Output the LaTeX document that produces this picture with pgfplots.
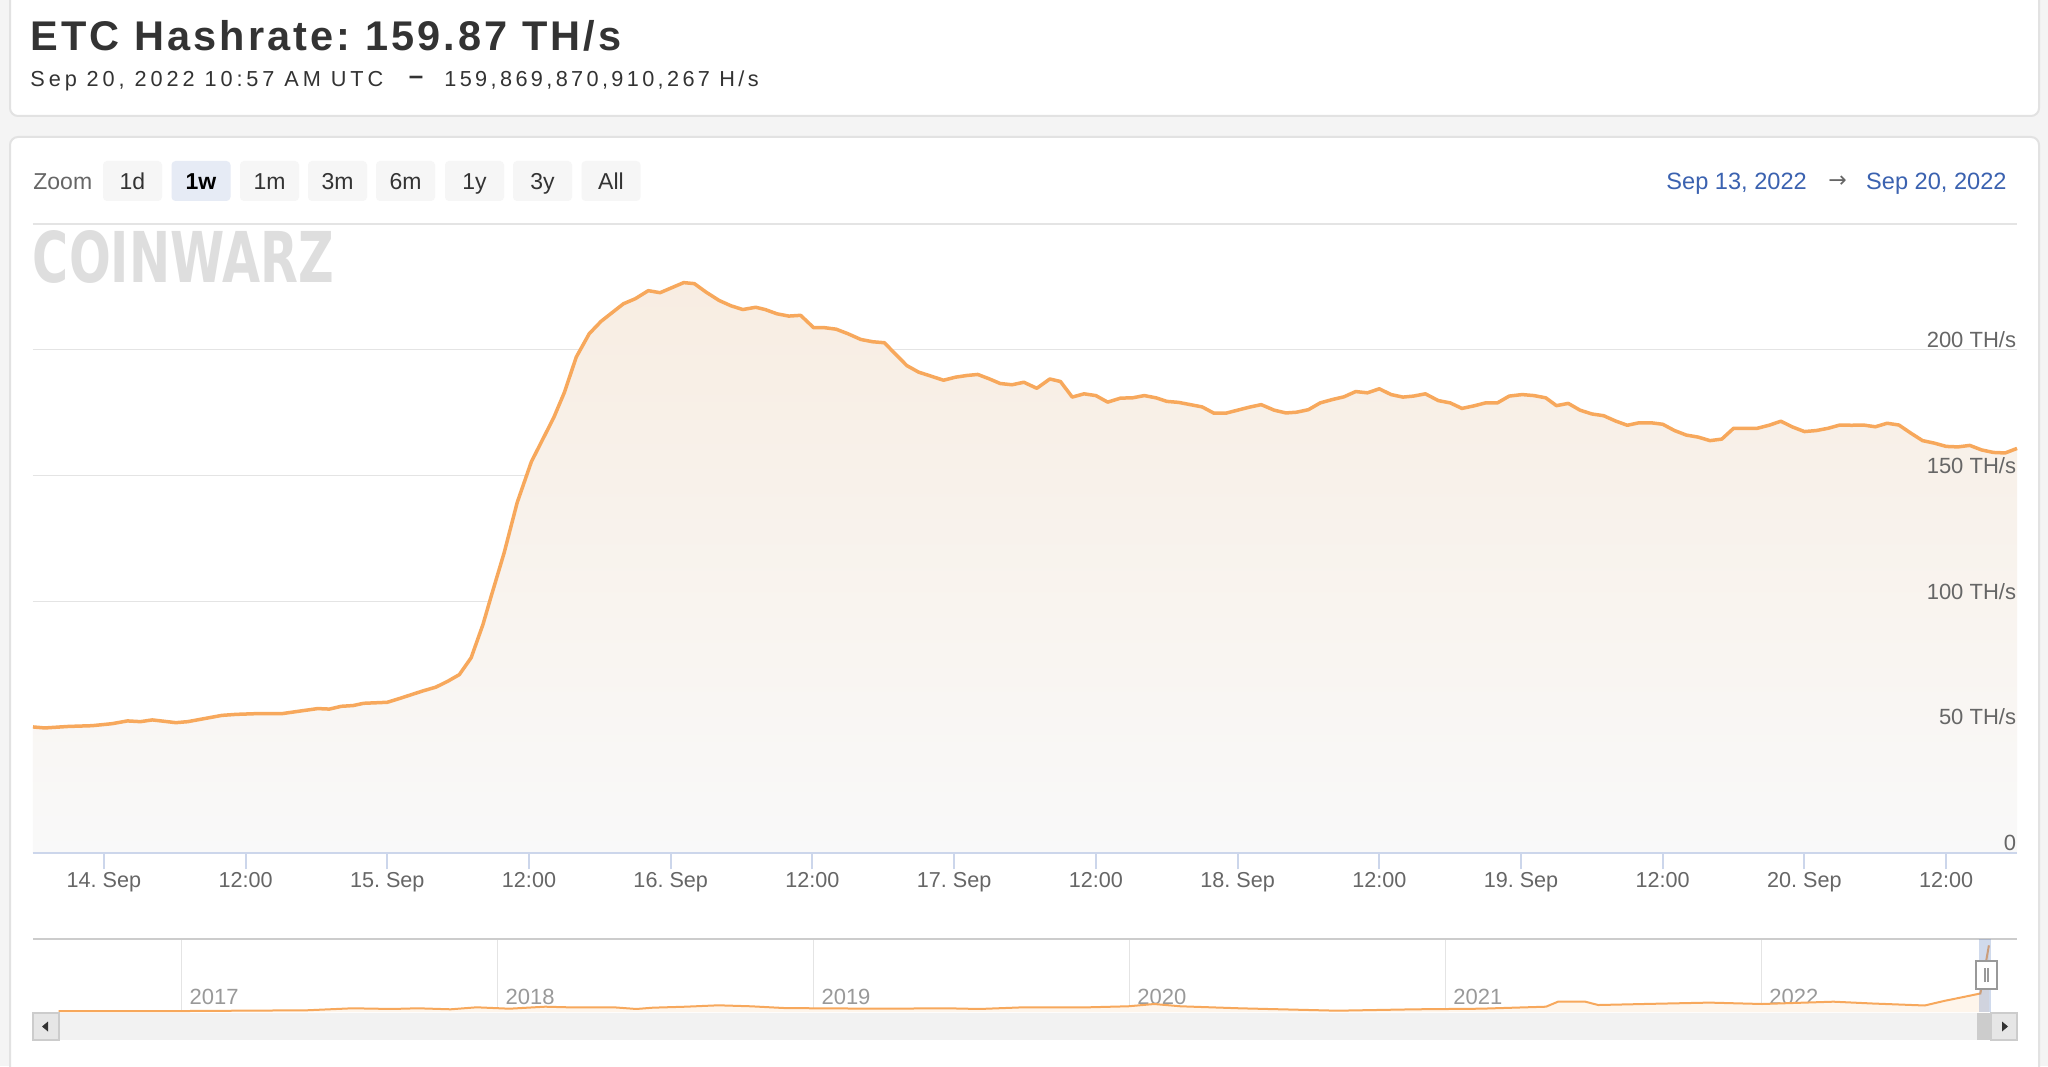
\documentclass[border=0pt]{standalone}
\usepackage{fontspec}
\setmainfont{Liberation Sans}
\newfontfamily\titlefont[LetterSpace=7.5]{Liberation Sans}
\newfontfamily\subfonta[LetterSpace=18]{Liberation Sans}
\newfontfamily\subfontb[LetterSpace=15.5]{Liberation Sans}
\newfontfamily\symfont{DejaVu Sans}
\usepackage{pgfplots}
\usepackage{pgfplotstable}
\pgfplotsset{compat=1.18}

\definecolor{pagebg}{RGB}{244,244,244}
\definecolor{cardline}{RGB}{226,226,226}
\definecolor{ink}{RGB}{51,51,51}
\definecolor{labelgray}{RGB}{102,102,102}
\definecolor{gridgray}{RGB}{228,228,228}
\definecolor{axisblue}{RGB}{204,214,235}
\definecolor{linec}{RGB}{247,168,92}
\definecolor{filltop}{RGB}{248,237,226}
\definecolor{fillbot}{RGB}{249,249,249}
\definecolor{btn}{RGB}{246,246,246}
\definecolor{btnsel}{RGB}{230,235,245}
\definecolor{rangeblue}{RGB}{59,98,176}
\definecolor{wm}{RGB}{222,222,222}
\definecolor{navgray}{RGB}{153,153,153}
\definecolor{scrolltrack}{RGB}{242,242,242}
\definecolor{scrollbtn}{RGB}{230,230,230}
\definecolor{scrollthumb}{RGB}{204,204,204}
\definecolor{maskblue}{RGB}{102,133,194}

% hours from 14 Sep 00:00, TH/s
\pgfplotstableread{
h v
-6 50.1
-5 49.7
-3 50.3
-1 50.6
0.7 51.4
2 52.5
3.1 52.2
4.1 52.9
6.1 51.8
7.1 52.2
10 54.7
11.2 55.1
13 55.4
15.1 55.4
18.1 57.4
19.1 57.2
20.1 58.3
21.1 58.6
22 59.5
24 59.9
25.1 61.5
27 64.4
28.1 65.9
29.1 68.2
30.1 70.9
31.1 77.6
32.1 90.8
32.8 102.1
33.9 119.4
35 139.3
36.2 155.5
38.1 173.1
39 183.1
40 197.1
41.1 206.4
42.1 211.3
43.1 215.0
44 218.3
45 220.3
46.1 223.5
47.1 222.7
48 224.5
49.1 226.7
50 226.3
51 222.9
52.1 219.6
53.1 217.5
54.1 216.0
55.2 216.9
56 216.0
57 214.3
58 213.4
59 213.7
60.1 208.8
61 208.8
62 208.2
63 206.4
64.1 204.1
65.1 203.2
66.1 202.8
67 198.4
68 193.7
69 191.1
70 189.6
71.1 187.9
72.1 189.1
73.1 189.8
74 190.2
75 188.4
75.9 186.6
76.9 186.1
77.9 187.1
79 184.7
80.1 188.4
81 187.4
82 181.2
83 182.5
84 181.8
85 179.2
86.1 180.8
87.1 180.9
88.1 181.8
89.1 180.9
90 179.5
91 179.1
92 178.2
93 177.3
94 174.8
95 174.8
96 176.0
97 177.2
98 178.2
99.1 176.0
100.1 174.9
101 175.2
102 176.2
103 178.9
104 180.2
105 181.3
106 183.4
107 182.9
108 184.5
109 182.2
110 181.2
110.9 181.6
111.9 182.5
113 179.8
114 178.9
115 176.7
116 177.7
117 178.9
118 178.9
119 181.6
120.1 182.2
121.1 181.8
122.1 180.9
123 177.8
124 178.7
125 176.0
126 174.5
127 173.8
128 171.7
129 170.0
130 171.0
131 171.0
132 170.4
133 167.9
134 166.1
135 165.3
136 163.9
137 164.5
138 168.8
139 168.8
140 168.8
141 170.0
142 171.6
143 169.3
144 167.5
145 167.9
146 168.8
147 170.1
148 170.0
149 170.1
150 169.4
151 170.8
152 170.1
153 166.9
154 163.9
155 162.9
156 161.6
157 161.4
158 162.0
159 160.2
160 159.2
161 159.0
162 160.8
}\hashdata

% navigator: year, TH/s
\pgfplotstableread{
yr v
2016.611 3
2017.0 3
2017.397 5.4
2017.541 11.7
2017.666 9.5
2017.748 11.7
2017.852 8.5
2017.934 14.8
2018.038 10.4
2018.151 16.7
2018.224 14.8
2018.368 14.8
2018.44 9.5
2018.492 13.6
2018.596 16.7
2018.699 21.1
2018.802 18
2018.906 12.6
2019.0 11.7
2019.216 10.4
2019.422 11.7
2019.526 9.5
2019.666 14.8
2019.871 14.8
2019.997 18
2020.079 25.2
2020.162 18
2020.348 11.7
2020.658 4.1
2020.906 8.5
2021.112 10.4
2021.319 16.7
2021.357 32.5
2021.443 32.5
2021.485 22
2021.629 25.2
2021.836 29.6
2022.003 25.2
2022.229 32.5
2022.352 26.8
2022.518 20.5
2022.58 35
2022.642 47.6
2022.694 58.4
2022.721 210
}\navdata

\begin{document}
\frenchspacing
\begin{tikzpicture}[x=0.5pt,y=0.5pt]
\path[use as bounding box] (0,0) rectangle (2048,1066);
\fill[pagebg] (0,0) rectangle (2048,1066);
% cards
\draw[cardline, fill=white, line width=1pt, rounded corners=4pt] (10,950) rectangle (2039,1090);
\draw[cardline, fill=white, line width=1pt, rounded corners=4pt] (10,-20) rectangle (2039,929);

% header
\node[anchor=base west, inner sep=0pt, text=ink, font=\titlefont\bfseries\fontsize{20.75pt}{24pt}\selectfont] at (30,1015.3) {ETC Hashrate: 159.87 TH/s};
\node[anchor=base west, inner sep=0pt, text=ink, font=\subfonta\fontsize{10.85pt}{13pt}\selectfont] at (30,979) {Sep 20, 2022 10:57 AM UTC};
\node[anchor=center, inner sep=0pt, text=ink, font=\bfseries\fontsize{13pt}{15pt}\selectfont] at (416,986) {–};
\node[anchor=base west, inner sep=0pt, text=ink, font=\subfontb\fontsize{10.85pt}{13pt}\selectfont] at (444,979) {159,869,870,910,267 H/s};

% zoom buttons
\node[anchor=base west, inner sep=0pt, text=labelgray, font=\fontsize{11.5pt}{13pt}\selectfont] at (33,876.5) {Zoom};
\foreach \cx/\lab in {132.5/1d, 269.5/1m, 337.5/3m, 405.5/6m, 474.5/1y, 542.5/3y, 611/All} {
  \fill[btn, rounded corners=2pt] (\cx-29.5,865) rectangle (\cx+29.5,905);
  \node[anchor=base, inner sep=0pt, text=ink, font=\fontsize{11.5pt}{13pt}\selectfont] at (\cx,876.5) {\lab};
}
\fill[btnsel, rounded corners=2pt] (171.5,865) rectangle (230.5,905);
\node[anchor=base, inner sep=0pt, text=black, font=\bfseries\fontsize{11.5pt}{13pt}\selectfont] at (201,876.5) {1w};

% date range
\node[anchor=base west, inner sep=0pt, text=rangeblue, font=\fontsize{11.8pt}{14pt}\selectfont] at (1666,876.5) {Sep 13, 2022};
\node[anchor=center, inner sep=0pt, text=labelgray, font=\symfont\fontsize{11pt}{13pt}\selectfont] at (1837.5,884) {→};
\node[anchor=base east, inner sep=0pt, text=rangeblue, font=\fontsize{11.8pt}{14pt}\selectfont] at (2007,876.5) {Sep 20, 2022};

% watermark
\node[anchor=center, inner sep=0pt, text=wm] at (183.5,809) {\resizebox{150.5pt}{26pt}{\symfont\bfseries COINWARZ}};

% main chart
\begin{axis}[
    at={(16.5pt,106.5pt)}, anchor=south west,
    scale only axis, width=992pt, height=314.5pt,
    xmin=-6, xmax=162, ymin=0, ymax=250,
    axis line style={draw=none},
    xtick={0,12,...,156},
    xticklabels={14. Sep,12:00,15. Sep,12:00,16. Sep,12:00,17. Sep,12:00,18. Sep,12:00,19. Sep,12:00,20. Sep,12:00},
    xtick pos=lower, tick align=outside, major tick length=8pt,
    xtick style={axisblue, line width=1pt},
    xticklabel style={font=\fontsize{10.8pt}{13pt}\selectfont, text=labelgray, anchor=base, inner sep=0pt, yshift=-9.2pt},
    ytick={0,50,100,150,200,250},
    yticklabels={},
    ytick style={draw=none},
    ymajorgrids, major grid style={gridgray, line width=0.7pt},
    clip=false,
]
\addplot[draw=none, top color=filltop, bottom color=fillbot] table[x=h, y=v] {\hashdata} \closedcycle;
\addplot[linec, line width=1.75pt, line join=round] table[x=h, y=v] {\hashdata};
\draw[axisblue, line width=1pt] (rel axis cs:0,0) -- (rel axis cs:1,0);
\end{axis}

% y labels drawn above the series
\begin{axis}[
    at={(16.5pt,106.5pt)}, anchor=south west,
    scale only axis, width=992pt, height=314.5pt,
    xmin=-6, xmax=162, ymin=0, ymax=250,
    axis line style={draw=none},
    xtick=\empty,
    ytick={0,50,100,150,200},
    yticklabels={0,50 TH/s,100 TH/s,150 TH/s,200 TH/s},
    ytick style={draw=none},
    yticklabel pos=right,
    yticklabel style={font=\fontsize{11pt}{13pt}\selectfont, text=labelgray, anchor=base east, inner sep=0pt, xshift=-0.3pt, yshift=1.2pt},
]
\end{axis}

% navigator
\begin{axis}[
    at={(16.5pt,27pt)}, anchor=south west,
    scale only axis, width=992pt, height=36.5pt,
    xmin=2016.53, xmax=2022.81, ymin=0, ymax=230,
    axis line style={draw=none},
    ytick=\empty,
    xtick={2017,2018,2019,2020,2021,2022},
    xticklabels={2017,2018,2019,2020,2021,2022},
    tick style={draw=none},
    xticklabel style={font=\fontsize{11pt}{13pt}\selectfont, text=navgray, anchor=base west, inner sep=0pt, xshift=3.9pt, yshift=4pt},
    xmajorgrids, major grid style={gridgray, line width=0.6pt},
    clip=false,
]
\addplot[draw=none, fill=linec!12] table[x=yr, y=v] {\navdata} \closedcycle;
\addplot[linec, line width=1pt] table[x=yr, y=v] {\navdata};
\end{axis}

% navigator chrome
\draw[scrollthumb, line width=1pt] (33,127) -- (2017,127);
\fill[maskblue, fill opacity=0.3] (1979,54) rectangle (1991,127);
\draw[navgray, fill=white, line width=1pt] (1976,77) rectangle (1997,105);
\draw[navgray, line width=0.6pt] (1985,84) -- (1985,98) (1988,84) -- (1988,98);
\fill[scrolltrack] (33,26) rectangle (2017,53);
\fill[scrollthumb] (1977,26) rectangle (1991,53);
\draw[scrollthumb, fill=scrollbtn, line width=0.6pt] (33,26) rectangle (59,53);
\fill[black!80] (42,39.5) -- (48,44.5) -- (48,34.5) -- cycle;
\draw[scrollthumb, fill=scrollbtn, line width=0.6pt] (1991,26) rectangle (2017,53);
\fill[black!80] (2008,39.5) -- (2002,44.5) -- (2002,34.5) -- cycle;
\end{tikzpicture}
\end{document}
